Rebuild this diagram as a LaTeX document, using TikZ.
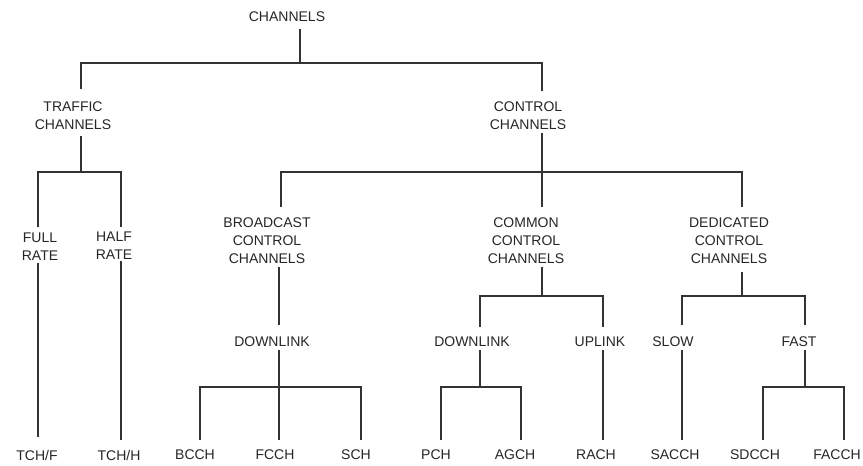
\documentclass[tikz,border=0pt]{standalone}
\usepackage{fontspec}
\setmainfont{Liberation Sans}
\begin{document}
\begin{tikzpicture}[x=1pt,y=-1pt,
  lbl/.style={anchor=north,inner sep=0pt,align=center,text=black!85,
    font=\fontsize{14pt}{18pt}\selectfont},
  conn/.style={draw=black!80,line width=1.3pt}]
\fill[white] (0,0) rectangle (863,466);
\useasboundingbox (0,0) rectangle (863,466);
% labels
\node[lbl] (root) at (287,12) {CHANNELS};
\node[lbl] (traffic) at (73,102) {TRAFFIC\\CHANNELS};
\node[lbl] (control) at (528,102) {CONTROL\\CHANNELS};
\node[lbl] (full) at (40,233) {FULL\\RATE};
\node[lbl] (half) at (114,232) {HALF\\RATE};
\node[lbl] (bcc) at (267,218) {BROADCAST\\CONTROL\\CHANNELS};
\node[lbl] (ccc) at (526,218) {COMMON\\CONTROL\\CHANNELS};
\node[lbl] (dcc) at (729,218) {DEDICATED\\CONTROL\\CHANNELS};
\node[lbl] (dl1) at (272,337) {DOWNLINK};
\node[lbl] (dl2) at (472,337) {DOWNLINK};
\node[lbl] (ul) at (600,337) {UPLINK};
\node[lbl] (slow) at (673,337) {SLOW};
\node[lbl] (fast) at (799,337) {FAST};
\node[lbl] (tchf) at (37,450) {TCH/F};
\node[lbl] (tchh) at (119,450) {TCH/H};
\node[lbl] (bcch) at (195,450) {BCCH};
\node[lbl] (fcch) at (275,450) {FCCH};
\node[lbl] (sch) at (356,450) {SCH};
\node[lbl] (pch) at (436,450) {PCH};
\node[lbl] (agch) at (515,450) {AGCH};
\node[lbl] (rach) at (596,450) {RACH};
\node[lbl] (sacch) at (675,450) {SACCH};
\node[lbl] (sdcch) at (755,450) {SDCCH};
\node[lbl] (facch) at (837,450) {FACCH};
% junctions
\coordinate (J0) at (300,63);
\coordinate (J1) at (81,172);
\coordinate (J2) at (542,172);
\coordinate (J3) at (279,387);
\coordinate (J4) at (542,296);
\coordinate (J5) at (480,387);
\coordinate (J6) at (742,296);
\coordinate (J7) at (805,387);
\coordinate (xFull) at (38,172);
\coordinate (xHalf) at (121,172);
\coordinate (xBcc) at (281,172);
\coordinate (xDcc) at (742,172);
\coordinate (xBcch) at (200,387);
\coordinate (xSch) at (361,387);
\coordinate (xPch) at (441,387);
\coordinate (xAgch) at (521,387);
\coordinate (xUl) at (603,296);
\coordinate (xSlow) at (682,296);
\coordinate (xSdcch) at (763,387);
\coordinate (xFacch) at (844,387);
% level 0
\draw[conn] ([yshift=-7pt]root.south -| J0) -- (J0);
\draw[conn] ([yshift=13pt]traffic.north -| J1) |- (J0) -| ([yshift=11pt]control.north -| J2);
% traffic
\draw[conn] ([yshift=-6pt]traffic.south -| J1) -- (J1);
\draw[conn] ([yshift=6pt]full.north -| xFull) |- (J1) -| ([yshift=5pt]half.north -| xHalf);
\draw[conn] ([yshift=-2pt]full.south -| xFull) -- ([yshift=13pt]tchf.north -| xFull);
\draw[conn] ([yshift=-1pt]half.south -| xHalf) -- ([yshift=10pt]tchh.north -| xHalf);
% control
\draw[conn] ([yshift=-3pt]control.south -| J2) -- (J2);
\draw[conn] ([yshift=11pt]bcc.north -| xBcc) |- (J2) -| ([yshift=11pt]dcc.north -| xDcc);
\draw[conn] (J2) -- ([yshift=11pt]ccc.north -| J2);
% broadcast
\draw[conn] ([yshift=-3pt]bcc.south -| J3) -- ([yshift=12pt]dl1.north -| J3);
\draw[conn] ([yshift=-3pt]dl1.south -| J3) -- ([yshift=10pt]fcch.north -| J3);
\draw[conn] ([yshift=10pt]bcch.north -| xBcch) |- (J3) -| ([yshift=10pt]sch.north -| xSch);
% common
\draw[conn] ([yshift=-3pt]ccc.south -| J4) -- (J4);
\draw[conn] ([yshift=10pt]dl2.north -| J5) |- (J4) -| ([yshift=10pt]ul.north -| xUl);
\draw[conn] ([yshift=-3pt]dl2.south -| J5) -- (J5);
\draw[conn] ([yshift=10pt]pch.north -| xPch) |- (J5) -| ([yshift=10pt]agch.north -| xAgch);
\draw[conn] ([yshift=-3pt]ul.south -| xUl) -- ([yshift=10pt]rach.north -| xUl);
% dedicated
\draw[conn] ([yshift=-8pt]dcc.south -| J6) -- (J6);
\draw[conn] ([yshift=12pt]slow.north -| xSlow) |- (J6) -| ([yshift=12pt]fast.north -| J7);
\draw[conn] ([yshift=-3pt]slow.south -| xSlow) -- ([yshift=10pt]sacch.north -| xSlow);
\draw[conn] ([yshift=-3pt]fast.south -| J7) -- (J7);
\draw[conn] ([yshift=10pt]sdcch.north -| xSdcch) |- (J7) -| ([yshift=10pt]facch.north -| xFacch);
\end{tikzpicture}
\end{document}
